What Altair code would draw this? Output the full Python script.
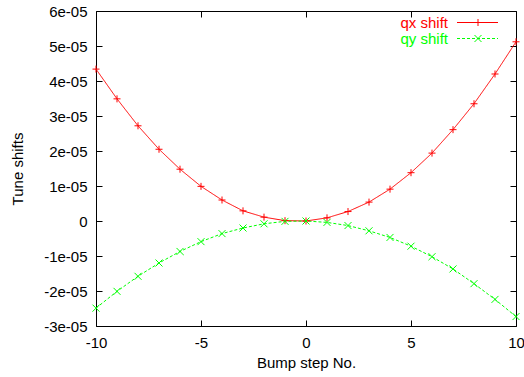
import altair as alt
import pandas as pd

steps = list(range(-10, 11))
qx_shift = [4.34, 3.49, 2.72, 2.05, 1.48, 0.99, 0.60, 0.29, 0.11, 0.01, 0.0,
            0.09, 0.27, 0.54, 0.91, 1.38, 1.94, 2.61, 3.35, 4.20, 5.12]
qy_shift = [-2.49, -2.01, -1.58, -1.20, -0.87, -0.59, -0.36, -0.20, -0.08, -0.01, 0.0,
            -0.04, -0.13, -0.28, -0.47, -0.72, -1.02, -1.37, -1.79, -2.24, -2.73]
series_names = ["qx shift", "qy shift"]
series_colors = ["#ff0000", "#00ff00"]
x_ticks = [-10, -5, 0, 5, 10]
y_ticks = [i * 1e-5 for i in range(-3, 7)]

rows = []
for s, q in zip(steps, qx_shift):
    rows.append({"step": s, "value": q * 1e-5, "series": "qx shift"})
for s, q in zip(steps, qy_shift):
    rows.append({"step": s, "value": q * 1e-5, "series": "qy shift"})
df = pd.DataFrame(rows)

FONT = "Liberation Sans"
FS = 15
plus_path = "M-1,0L1,0M0,-1L0,1"
cross_path = "M-1,-1L1,1M-1,1L1,-1"

xscale = alt.Scale(domain=[-10, 10], nice=False, zero=False)
yscale = alt.Scale(domain=[-3e-5, 6e-5], nice=False, zero=False)
cscale = alt.Scale(domain=series_names, range=series_colors)
dscale = alt.Scale(domain=series_names, range=[[1, 0], [3, 2]])
sscale = alt.Scale(domain=series_names, range=[plus_path, cross_path])

x_axis = alt.Axis(values=x_ticks, domain=False, tickSize=6, offset=-6, tickColor="black",
                  labelPadding=9, labelFont=FONT, labelFontSize=FS, labelColor="black",
                  grid=False, title="Bump step No.", titleFont=FONT, titleFontSize=FS,
                  titleFontWeight="normal", titleColor="black", titleY=42,
                  titleBaseline="middle", labelFlush=False,
                  labelExpr="'' + datum.value")
y_axis = alt.Axis(values=y_ticks, domain=False, tickSize=6, offset=-6, tickColor="black",
                  labelPadding=9, labelFont=FONT, labelFontSize=FS, labelColor="black",
                  grid=False, title="Tune shifts", titleFont=FONT, titleFontSize=FS,
                  titleFontWeight="normal", titleColor="black", titleX=-85,
                  titleY=157.5, titleBaseline="middle", titleAlign="center", titleAngle=-90,
                  labelFlush=False,
                  labelExpr="abs(datum.value) < 1e-12 ? '0' : round(datum.value*1e5) + 'e-05'")
x_axis_top = alt.Axis(values=x_ticks, domain=False, tickSize=6, offset=-6, tickColor="black",
                      labels=False, grid=False, title=None, orient="top")
y_axis_right = alt.Axis(values=y_ticks, domain=False, tickSize=6, offset=-6, tickColor="black",
                        labels=False, grid=False, title=None, orient="right")

lines = alt.Chart(df).mark_line(strokeWidth=1).encode(
    x=alt.X("step:Q", scale=xscale, axis=x_axis),
    y=alt.Y("value:Q", scale=yscale, axis=y_axis),
    color=alt.Color("series:N", scale=cscale, legend=None),
    strokeDash=alt.StrokeDash("series:N", scale=dscale, legend=None),
    detail="series:N",
)
points = alt.Chart(df).mark_point(filled=False, size=49, strokeWidth=1, opacity=1).encode(
    x=alt.X("step:Q", scale=xscale, axis=None),
    y=alt.Y("value:Q", scale=yscale, axis=None),
    color=alt.Color("series:N", scale=cscale, legend=None),
    shape=alt.Shape("series:N", scale=sscale, legend=None),
)
frame = alt.Chart(df).mark_point(opacity=0).encode(
    x=alt.X("step:Q", scale=xscale, axis=x_axis_top),
    y=alt.Y("value:Q", scale=yscale, axis=y_axis_right),
)

# legend positions relative to the plot area's top-left corner
legend_y = [11.5, 27.5]
legend_dash = [[1, 0], [3, 2]]
legend_shape = [plus_path, cross_path]
leg_layers = []
leg_df = pd.DataFrame({"series": series_names})
for name, col, ly, dash, shp in zip(series_names, series_colors, legend_y, legend_dash, legend_shape):
    base = alt.Chart(leg_df).transform_filter(alt.datum.series == name)
    leg_layers.append(base.mark_text(align="right", baseline="middle", font=FONT,
                                     fontSize=FS, color=col).encode(
        text="series:N", x=alt.value(352), y=alt.value(ly)))
    leg_layers.append(base.mark_rule(color=col, strokeWidth=1, strokeDash=dash).encode(
        x=alt.value(361), x2=alt.value(402), y=alt.value(ly)))
    leg_layers.append(base.mark_point(shape=shp, filled=False, size=49, strokeWidth=1,
                                      color=col, opacity=1).encode(
        x=alt.value(382), y=alt.value(ly)))

chart = alt.layer(lines, points, frame, *leg_layers).resolve_axis(
    x="independent", y="independent"
).properties(
    width=420, height=315,
    autosize=alt.AutoSizeParams(type="none"),
    padding={"left": 96, "top": 11, "right": 8, "bottom": 51},
    background="white",
).configure_view(stroke="black", strokeWidth=1)

chart.save("out.html", embed_options={"renderer": "svg", "actions": False})
